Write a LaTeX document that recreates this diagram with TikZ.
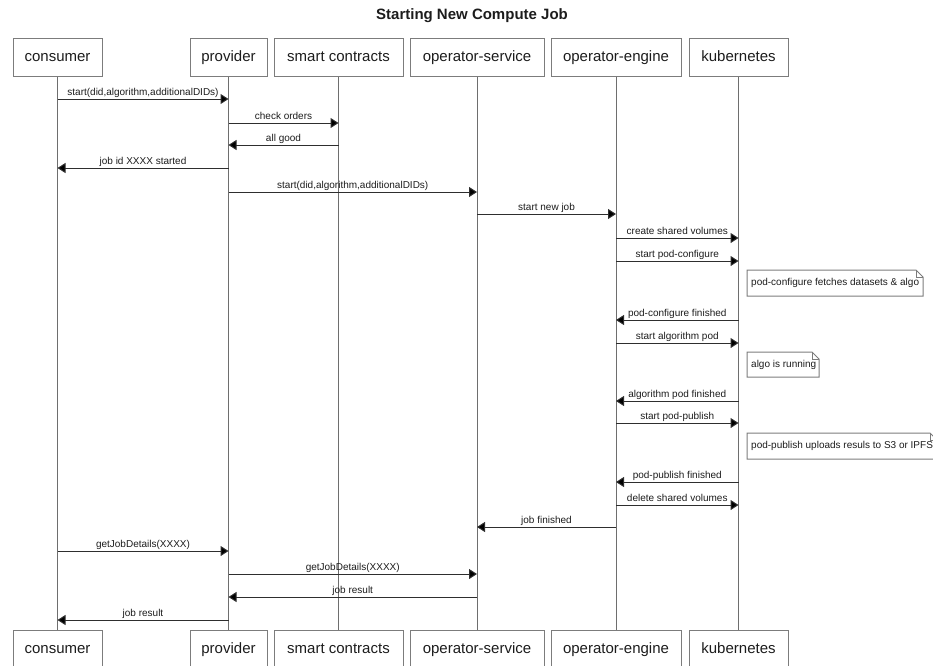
\documentclass[tikz,border=0pt]{standalone}
\usepackage{fontspec}
\setmainfont{Liberation Sans}
\usetikzlibrary{arrows.meta}
\definecolor{boxgray}{HTML}{7C7C7C}
\definecolor{lifegray}{HTML}{6E6E6E}
\definecolor{msgcol}{HTML}{2E2E2E}
\definecolor{txt}{HTML}{1C1C1C}

% message between two lifelines at height #3
\newcommand\seqmsg[4]{%
  \coordinate (row) at (0,#3);
  \draw[msg] (#1 |- row) -- node[lbl]{#4} (#2 |- row);}

% note with a folded corner: name, x1, y1, x2, y2, text
\newcommand\seqnote[6]{%
  \draw[notebox] (#2,#3) -- ({#4-7},#3) -- (#4,{#3+7}) -- (#4,#5) -- (#2,#5) -- cycle;
  \draw[notebox] ({#4-7},#3) -- ({#4-7},{#3+7}) -- (#4,{#3+7});
  \node[notetxt] (#1) at ({#2+4},{(#3+#5)/2}) {#6};}

\begin{document}
\begin{tikzpicture}[x=1pt,y=-1pt,
  actor/.style={draw=boxgray, line width=1pt, minimum height=38pt, inner sep=0pt,
                text height=11pt, text depth=3pt,
                font=\fontsize{15}{18}\selectfont, text=txt},
  life/.style={draw=lifegray, line width=1pt},
  msg/.style={draw=msgcol, line width=1pt, -{Triangle[length=8pt,width=10pt,fill=black]}},
  lbl/.style={midway, font=\fontsize{10}{12}\selectfont, text=txt, anchor=base,
              yshift=3.5pt, inner sep=0pt},
  notebox/.style={draw=boxgray, line width=1pt},
  notetxt/.style={anchor=west, inner sep=0pt, font=\fontsize{10}{12}\selectfont, text=txt}]
\useasboundingbox (0,0) rectangle (933,665);

\node[font=\bfseries\fontsize{15}{18}\selectfont, text=txt] (title) at (472,16) {Starting New Compute Job};

% participants, top row
\node[actor, minimum width=89pt]  (cT) at (57.5,57)  {consumer};
\node[actor, minimum width=77pt]  (pT) at (228.5,57) {provider};
\node[actor, minimum width=129pt] (sT) at (338.5,57) {smart contracts};
\node[actor, minimum width=134pt] (oT) at (477,57)   {operator-service};
\node[actor, minimum width=130pt] (eT) at (616,57)   {operator-engine};
\node[actor, minimum width=99pt]  (kT) at (738.5,57) {kubernetes};

% participants, bottom row
\node[actor, minimum width=89pt]  (cB) at (57.5,649)  {consumer};
\node[actor, minimum width=77pt]  (pB) at (228.5,649) {provider};
\node[actor, minimum width=129pt] (sB) at (338.5,649) {smart contracts};
\node[actor, minimum width=134pt] (oB) at (477,649)   {operator-service};
\node[actor, minimum width=130pt] (eB) at (616,649)   {operator-engine};
\node[actor, minimum width=99pt]  (kB) at (738.5,649) {kubernetes};

% lifelines
\foreach \p in {c,p,s,o,e,k} \draw[life] (\p T.south) -- (\p B.north);

% messages
\seqmsg{cT}{pT}{99}{start(did,algorithm,additionalDIDs)}
\seqmsg{pT}{sT}{123}{check orders}
\seqmsg{sT}{pT}{145}{all good}
\seqmsg{pT}{cT}{168}{job id XXXX started}
\seqmsg{pT}{oT}{192}{start(did,algorithm,additionalDIDs)}
\seqmsg{oT}{eT}{214}{start new job}
\seqmsg{eT}{kT}{238}{create shared volumes}
\seqmsg{eT}{kT}{261}{start pod-configure}
\seqnote{n1}{747}{270}{923}{296}{pod-configure fetches datasets \& algo}
\seqmsg{kT}{eT}{320}{pod-configure finished}
\seqmsg{eT}{kT}{343}{start algorithm pod}
\seqnote{n2}{747}{352}{819}{377}{algo is running}
\seqmsg{kT}{eT}{401}{algorithm pod finished}
\seqmsg{eT}{kT}{423}{start pod-publish}
\seqnote{n3}{747}{433}{937}{459}{pod-publish uploads resuls to S3 or IPFS}
\seqmsg{kT}{eT}{482}{pod-publish finished}
\seqmsg{eT}{kT}{505}{delete shared volumes}
\seqmsg{eT}{oT}{527}{job finished}
\seqmsg{cT}{pT}{551}{getJobDetails(XXXX)}
\seqmsg{pT}{oT}{574}{getJobDetails(XXXX)}
\seqmsg{oT}{pT}{597}{job result}
\seqmsg{pT}{cT}{620}{job result}
\end{tikzpicture}
\end{document}
